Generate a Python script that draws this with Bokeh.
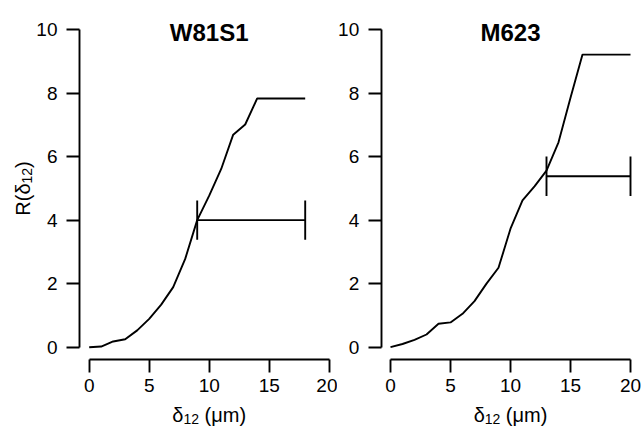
import math
from bokeh.plotting import figure
from bokeh.layouts import row
from bokeh.models import Range1d, Label, LinearAxis
from bokeh.embed import file_html
from bokeh.resources import INLINE

# ---- data ----
w81_delta = [0, 1, 2, 3, 4, 5, 6, 7, 8, 9, 10, 11, 12, 13, 14, 18]
w81_r = [0.00, 0.02, 0.18, 0.25, 0.53, 0.89, 1.34, 1.89, 2.78, 4.00, 4.77, 5.61, 6.69, 7.01, 7.83, 7.83]
w81_bar_y = 4.0
w81_bar_x = [9, 18]

m623_delta = [0, 1, 2, 3, 4, 5, 6, 7, 8, 9, 10, 11, 12, 13, 14, 15, 16, 20]
m623_r = [0.00, 0.10, 0.23, 0.40, 0.74, 0.78, 1.05, 1.45, 2.00, 2.50, 3.73, 4.62, 5.06, 5.56, 6.45, 7.85, 9.21, 9.21]
m623_bar_y = 5.38
m623_bar_x = [13, 20]

titles = ["W81S1", "M623"]
x_ticks = [0, 5, 10, 15, 20]
y_ticks = [0, 2, 4, 6, 8, 10]
xlabel_parts = [("δ", False), ("12", True), (" (μm)", False)]
ylabel_parts = [("R(δ", False), ("12", True), (")", False)]

FONT = "Liberation Sans"
LW = 1.9
CAP = 0.62
MAIN = 20
SUB = 14
PXX = 12.0     # px per x unit
PXY = 31.77    # px per y unit
Y0PIX = 346.7  # canvas y of R = 0
H = 434

# approximate advance widths (em) for composing sub-scripted labels
ADV = {"R": .722, "(": .333, ")": .333, "δ": .556, "1": .556, "2": .556,
       " ": .278, "μ": .576, "m": .833}


def twidth(s, size):
    return sum(ADV.get(c, .556) for c in s) * size


def py(pix):
    return (Y0PIX - pix) / PXY


def txt(p, x, y, t, size, angle=0.0, bold=False, align="left"):
    p.add_layout(Label(x=x, y=y, text=t, angle=angle, text_align=align,
                       text_baseline="alphabetic", text_font=FONT,
                       text_font_size=f"{size}px", text_color="black",
                       text_font_style="bold" if bold else "normal"))


def panel(title, xs, ys, bar_y, bar_x, width, x0pix, yaxis_pix, ylabel):
    def px(pix):
        return (pix - x0pix) / PXX

    p = figure(width=width, height=H, output_backend="svg", toolbar_location=None,
               x_range=Range1d(px(0), px(width)), y_range=Range1d(py(H), py(0)),
               x_axis_location=None, y_axis_location=None,
               min_border_left=0, min_border_right=0, min_border_top=0, min_border_bottom=0)
    p.outline_line_color = None
    p.grid.visible = False
    p.background_fill_color = "white"
    p.border_fill_color = "white"

    xa = LinearAxis(fixed_location=py(359.3), ticker=x_ticks, bounds=(0, 20))
    ya = LinearAxis(fixed_location=px(yaxis_pix), ticker=y_ticks, bounds=(0, 10))
    for ax in (xa, ya):
        ax.axis_line_width = LW
        ax.major_tick_line_width = LW
        ax.major_tick_out = 13
        ax.major_tick_in = 0
        ax.minor_tick_line_color = None
        ax.major_label_text_font = FONT
        ax.major_label_text_font_size = "19px"
        ax.major_label_text_color = "black"
    xa.major_label_standoff = 6
    ya.major_label_standoff = 9
    p.add_layout(xa, "below")
    p.add_layout(ya, "left")

    p.line(xs, ys, line_color="black", line_width=LW)
    p.segment(x0=[bar_x[0]], y0=[bar_y], x1=[bar_x[1]], y1=[bar_y], line_color="black", line_width=LW)
    p.segment(x0=bar_x, y0=[bar_y - CAP] * 2, x1=bar_x, y1=[bar_y + CAP] * 2,
              line_color="black", line_width=LW)

    txt(p, 10, py(31.7), title, 24, bold=True, align="center")

    # x label with subscript, centred on x = 10
    total = sum(twidth(t, SUB if s else MAIN) for t, s in xlabel_parts)
    xpix = 10 * PXX + x0pix - total / 2
    for t, s in xlabel_parts:
        size = SUB if s else MAIN
        lead = len(t) - len(t.lstrip())
        xpix += twidth(" " * lead, size)
        txt(p, px(xpix), py(418 if s else 414), t.strip(), size)
        xpix += twidth(t.strip(), size)

    if ylabel:
        total = sum(twidth(t, SUB if s else MAIN) for t, s in ylabel_parts)
        ypix = 188 + total / 2
        for t, s in ylabel_parts:
            size = SUB if s else MAIN
            txt(p, px(26 if s else 22), py(ypix), t, size, angle=math.pi / 2)
            ypix -= twidth(t, size)
    return p


p1 = panel(titles[0], w81_delta, w81_r, w81_bar_y, w81_bar_x, 337, 88.7, 79.0, True)
p2 = panel(titles[1], m623_delta, m623_r, m623_bar_y, m623_bar_x, 306, 53.0, 43.7, False)

layout = row(p1, p2)
open("out.html", "w").write(file_html(layout, INLINE))
